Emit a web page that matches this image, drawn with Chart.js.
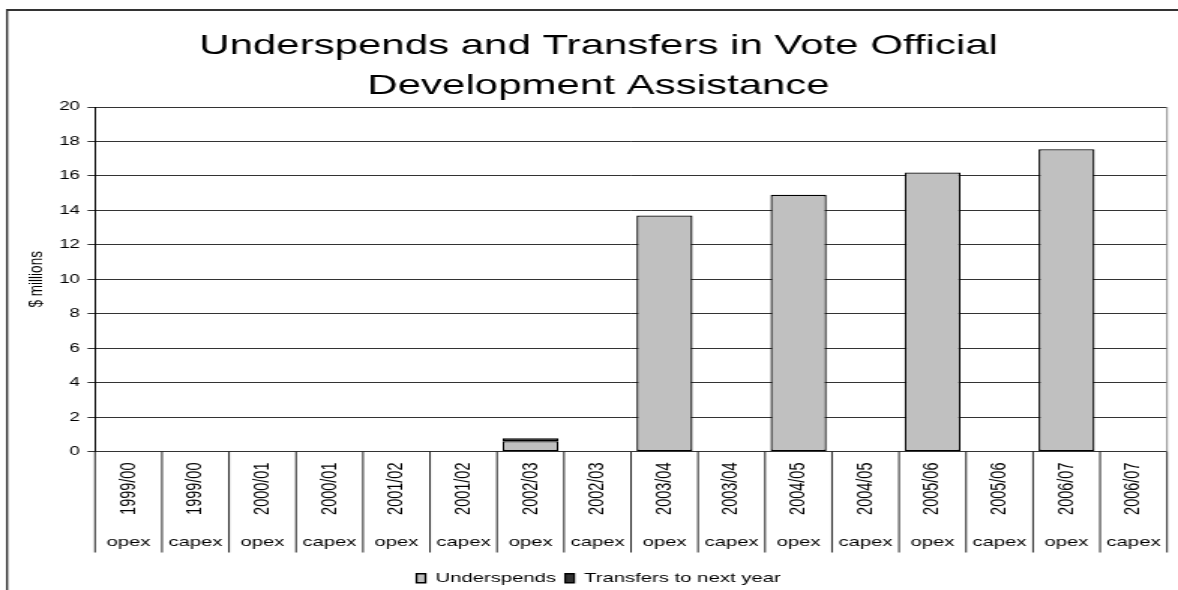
<!DOCTYPE html>
<html>
<head>
<meta charset="utf-8">
<script src="https://cdn.jsdelivr.net/npm/chart.js@4.4.0/dist/chart.umd.min.js"></script>
<style>
  html, body { margin: 0; padding: 0; background: #fff; }
</style>
</head>
<body>
<!-- drawn at 785 wide and stretched to 1178, like the original picture -->
<canvas id="chart" width="785" height="590" style="width:1178px;height:590px;display:block"></canvas>
<script>
const titleLines = ['Underspends and Transfers in Vote Official', 'Development Assistance'];
const periods = ['1999/00', '1999/00', '2000/01', '2000/01', '2001/02', '2001/02', '2002/03', '2002/03',
                 '2003/04', '2003/04', '2004/05', '2004/05', '2005/06', '2005/06', '2006/07', '2006/07'];
const spendTypes = ['opex', 'capex', 'opex', 'capex', 'opex', 'capex', 'opex', 'capex',
                    'opex', 'capex', 'opex', 'capex', 'opex', 'capex', 'opex', 'capex'];
const underspends = [0, 0, 0, 0, 0, 0, 0.6, 0, 13.7, 0, 14.9, 0, 16.2, 0, 17.55, 0];
const transfers = [0, 0, 0, 0, 0, 0, 0.17, 0, 0, 0, 0, 0, 0, 0, 0, 0];
const yMin = 0, yMax = 20, yStep = 2;

const FONT = '"Liberation Sans", Arial, sans-serif';
Chart.defaults.font.family = FONT;
Chart.defaults.color = '#000';

// outer frame + two-level category labels under the plot
const axisLabels = {
    id: 'axisLabels',
    beforeDraw(chart) {
        const ctx = chart.ctx;
        ctx.save();
        ctx.strokeStyle = '#333';
        ctx.lineWidth = 1.35;
        ctx.beginPath();
        ctx.moveTo(4.7, 600);
        ctx.lineTo(4.7, 9.5);
        ctx.stroke();
        ctx.lineWidth = 2;
        ctx.beginPath();
        ctx.moveTo(4, 10);
        ctx.lineTo(800, 10);
        ctx.stroke();
        ctx.restore();
    },
    afterDraw(chart) {
        const { ctx, chartArea } = chart;
        const x = chart.scales.x;
        const step = (x.right - x.left) / periods.length;
        const bottom = chartArea.bottom;
        ctx.save();
        ctx.strokeStyle = '#222';
        ctx.lineWidth = 1;
        for (let i = 0; i <= periods.length; i++) {
            const px = x.left + i * step;
            ctx.beginPath();
            ctx.moveTo(px, bottom);
            ctx.lineTo(px, bottom + 101);
            ctx.stroke();
        }
        ctx.strokeStyle = '#888';
        ctx.beginPath();
        ctx.moveTo(chartArea.right, chartArea.top);
        ctx.lineTo(chartArea.right, bottom);
        ctx.stroke();

        ctx.fillStyle = '#000';
        periods.forEach((p, i) => {
            const cx = x.getPixelForValue(i);
            ctx.save();
            ctx.translate(cx, bottom + 11);
            ctx.rotate(-Math.PI / 2);
            ctx.font = '14.5px ' + FONT;
            ctx.textAlign = 'right';
            ctx.textBaseline = 'middle';
            ctx.fillText(p, 0, 0);
            ctx.restore();
            ctx.font = '13.5px ' + FONT;
            ctx.textAlign = 'center';
            ctx.textBaseline = 'alphabetic';
            ctx.fillText(spendTypes[i], cx, bottom + 94);
        });
        ctx.restore();
    }
};

new Chart(document.getElementById('chart'), {
    type: 'bar',
    data: {
        labels: periods.map((p, i) => [p, spendTypes[i]]),
        datasets: [{
            label: 'Underspends',
            data: underspends,
            backgroundColor: '#c0c0c0',
            borderColor: '#000',
            borderWidth: 1.3,
            borderSkipped: false,
            barPercentage: 0.836,
            categoryPercentage: 1
        }, {
            label: 'Transfers to next year',
            data: transfers,
            backgroundColor: '#333333',
            borderColor: '#000',
            borderWidth: 1.3,
            borderSkipped: false,
            barPercentage: 0.836,
            categoryPercentage: 1
        }]
    },
    options: {
        responsive: false,
        devicePixelRatio: 1,
        animation: false,
        layout: { padding: { left: 20, right: 7.3, top: 0, bottom: -5 } },
        plugins: {
            title: {
                display: true,
                text: titleLines,
                color: '#000',
                font: { size: 28, weight: 'normal', lineHeight: 1.4 },
                padding: { top: 27, bottom: 1.6 }
            },
            legend: {
                position: 'bottom',
                labels: {
                    boxWidth: 6,
                    boxHeight: 9,
                    padding: 6,
                    color: '#000',
                    font: { size: 13.5 }
                }
            },
            tooltip: { enabled: false }
        },
        scales: {
            x: {
                stacked: true,
                grid: { display: false },
                border: { display: false },
                ticks: { display: false },
                afterFit: s => { s.height = 114; }
            },
            y: {
                stacked: true,
                min: yMin,
                max: yMax,
                ticks: { stepSize: yStep, padding: 5, color: '#000', font: { size: 12.5 } },
                grid: { color: '#333', tickLength: 5, tickColor: '#333' },
                border: { color: '#000' },
                title: {
                    display: true,
                    text: '$ millions',
                    color: '#000',
                    font: { size: 13.5 },
                    padding: { top: -4, bottom: 0 }
                },
                afterFit: s => { s.width = 43.3; }
            }
        }
    },
    plugins: [axisLabels]
});
</script>
</body>
</html>
